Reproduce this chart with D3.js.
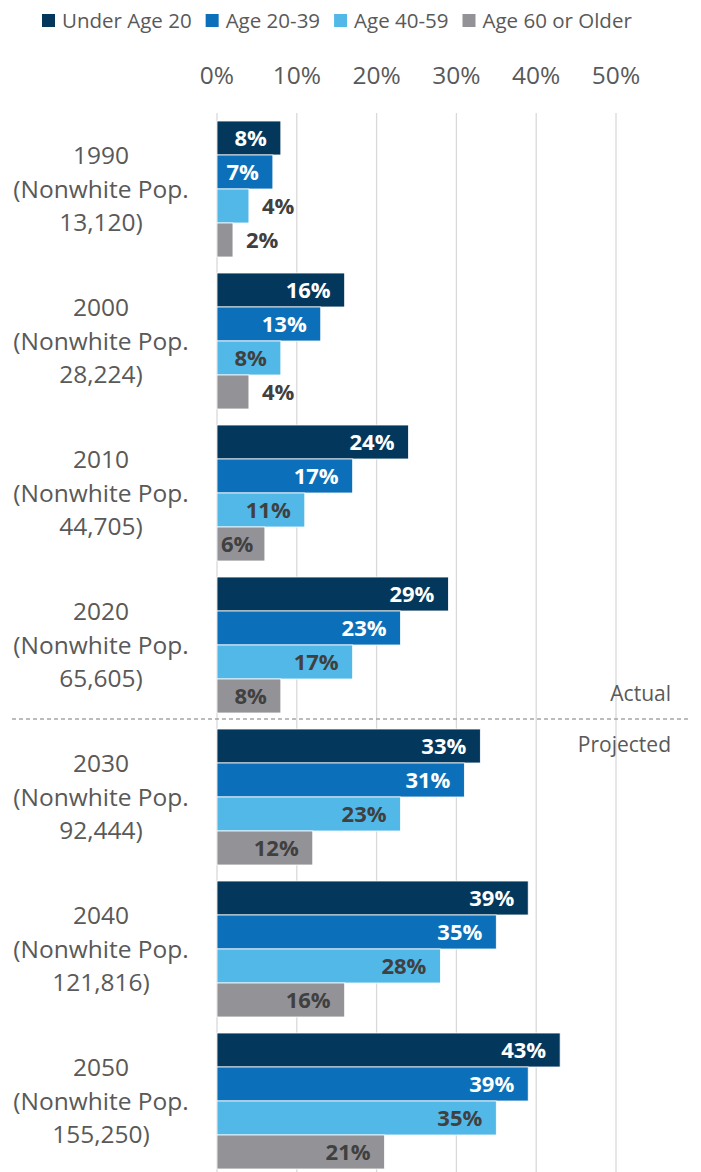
<!DOCTYPE html>
<html>
<head>
<meta charset="utf-8">
<script src="https://cdn.jsdelivr.net/npm/d3@7"></script>
<style>
  body { margin: 0; background: #fff; }
  svg { display: block; font-family: "Open Sans", "Noto Sans", sans-serif; }
</style>
</head>
<body>
<div id="chart"></div>
<script>
// 1: DATA
const years = ["1990", "2000", "2010", "2020", "2030", "2040", "2050"];
const nonwhitePop = ["13,120", "28,224", "44,705", "65,605", "92,444", "121,816", "155,250"];
const ageGroups = ["Under Age 20", "Age 20-39", "Age 40-59", "Age 60 or Older"];
const under20 = [8, 16, 24, 29, 33, 39, 43];
const age20to39 = [7, 13, 17, 23, 31, 35, 39];
const age40to59 = [4, 8, 11, 17, 23, 28, 35];
const age60plus = [2, 4, 6, 8, 12, 16, 21];
const xTicks = [0, 10, 20, 30, 40, 50];

const seriesValues = [under20, age20to39, age40to59, age60plus];
const colors = ["#03375c", "#0b70b9", "#52b8e8", "#939297"];
const labelColors = ["#ffffff", "#ffffff", "#404040", "#404040"];

// 2: SVG
const W = 701, H = 1172;
const svg = d3.select("#chart").append("svg")
    .attr("width", W)
    .attr("height", H);

// 3: SCALES
const x = d3.scaleLinear()
    .domain([0, 50])
    .range([217, 616]);

const y0 = d3.scaleBand()
    .domain(years)
    .range([113, 113 + 7 * 152])
    .paddingInner(16 / 152)
    .paddingOuter(8 / 152);

const y1 = d3.scaleBand()
    .domain(ageGroups)
    .range([0, y0.bandwidth()]);

// 4: GRID + AXIS LABELS
svg.append("g")
    .selectAll("line")
    .data(xTicks)
    .join("line")
    .attr("x1", d => x(d))
    .attr("x2", d => x(d))
    .attr("y1", 113)
    .attr("y2", H)
    .attr("stroke", "#d9d9d9")
    .attr("stroke-width", 1.3);

svg.append("g")
    .selectAll("text")
    .data(xTicks)
    .join("text")
    .attr("x", d => x(d))
    .attr("y", 84)
    .attr("text-anchor", "middle")
    .attr("fill", "#595959")
    .style("font-size", "24.5px")
    .text(d => d + "%");

// 5: BARS
const rows = [];
years.forEach((yr, i) => {
    ageGroups.forEach((g, j) => {
        rows.push({ year: yr, group: g, idx: j, value: seriesValues[j][i] });
    });
});

const barG = svg.append("g");
barG.selectAll("rect")
    .data(rows)
    .join("rect")
    .attr("x", x(0))
    .attr("y", d => y0(d.year) + y1(d.group))
    .attr("width", d => x(d.value) - x(0))
    .attr("height", y1.bandwidth())
    .attr("fill", d => colors[d.idx])
    .attr("stroke", "#fff")
    .attr("stroke-width", 0.8);

// value labels: inside end when it fits, otherwise outside
const labels = barG.selectAll("text.val")
    .data(rows)
    .join("text")
    .attr("class", "val")
    .attr("y", d => y0(d.year) + y1(d.group) + y1.bandwidth() / 2)
    .attr("dy", "0.36em")
    .style("font-size", "22px")
    .style("font-weight", "bold")
    .text(d => d.value + "%");

labels.each(function(d) {
    const t = d3.select(this);
    const tw = this.getComputedTextLength();
    const bw = x(d.value) - x(0);
    if (bw >= tw + 10) {
        t.attr("x", x(d.value) - Math.min(14, bw - tw - 4)).attr("text-anchor", "end").attr("fill", labelColors[d.idx]);
    } else {
        t.attr("x", x(d.value) + 13).attr("text-anchor", "start").attr("fill", "#404040");
    }
});

// 6: CATEGORY LABELS
const catG = svg.append("g");
years.forEach((yr, i) => {
    const cy = y0(yr) + y0.bandwidth() / 2;
    const lines = [yr, "(Nonwhite Pop.", nonwhitePop[i] + ")"];
    lines.forEach((s, k) => {
        catG.append("text")
            .attr("x", 101)
            .attr("y", cy + (k - 1) * 33.5)
            .attr("dy", "0.36em")
            .attr("text-anchor", "middle")
            .attr("fill", "#595959")
            .style("font-size", "24.5px")
            .text(s);
    });
});

// 7: ACTUAL / PROJECTED DIVIDER
svg.append("line")
    .attr("x1", 12)
    .attr("x2", 690)
    .attr("y1", 719)
    .attr("y2", 719)
    .attr("stroke", "#a6a6a6")
    .attr("stroke-width", 1.3)
    .attr("stroke-dasharray", "4,3");

svg.append("text")
    .attr("x", 671)
    .attr("y", 701)
    .attr("text-anchor", "end")
    .attr("fill", "#595959")
    .style("font-size", "21px")
    .text("Actual");

svg.append("text")
    .attr("x", 671)
    .attr("y", 752)
    .attr("text-anchor", "end")
    .attr("fill", "#595959")
    .style("font-size", "21px")
    .text("Projected");

// 8: LEGEND
const legend = svg.append("g").attr("transform", "translate(42,0)");
let lx = 0;
ageGroups.forEach((g, j) => {
    legend.append("rect")
        .attr("x", lx)
        .attr("y", 14)
        .attr("width", 13)
        .attr("height", 13)
        .attr("fill", colors[j]);
    const t = legend.append("text")
        .attr("x", lx + 20)
        .attr("y", 27.5)
        .attr("fill", "#595959")
        .style("font-size", "20.5px")
        .text(g);
    lx += 20 + t.node().getComputedTextLength() + 14;
});
</script>
</body>
</html>
